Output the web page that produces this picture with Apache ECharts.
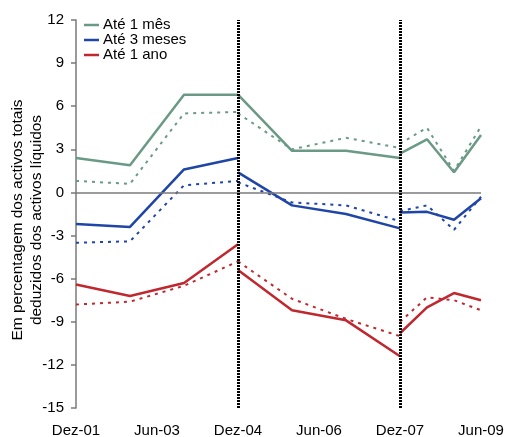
<!DOCTYPE html>
<html>
<head>
<meta charset="utf-8">
<script src="https://cdn.jsdelivr.net/npm/echarts@6/dist/echarts.min.js"></script>
<style>
  html, body { margin: 0; padding: 0; background: #fff; }
  #chart { width: 506px; height: 437px; }
</style>
</head>
<body>
<div id="chart"></div>
<script>
// Months since Dez-01, split into three periods (breaks at Dez-04 and Dez-07)
const periodMonths = [[0, 12, 24, 36], [36, 48, 60, 72], [72, 78, 84, 90]];
const tickLabels = ['Dez-01', 'Jun-03', 'Dez-04', 'Jun-06', 'Dez-07', 'Jun-09'];
const breakMonths = [36, 72];
const yTitle = 'Em percentagem dos activos totais\ndeduzidos dos activos líquidos';

// Solid lines
const mes1 = [[2.4, 1.9, 6.8, 6.8], [6.8, 2.9, 2.9, 2.4], [2.7, 3.7, 1.4, 4.0]];
const meses3 = [[-2.2, -2.4, 1.6, 2.4], [1.4, -0.9, -1.5, -2.5], [-1.4, -1.35, -1.9, -0.4]];
const ano1 = [[-6.4, -7.2, -6.3, -3.6], [-5.4, -8.2, -8.9, -11.4], [-9.8, -8.0, -7.0, -7.5]];

// Dotted lines
const mes1Dot = [[0.8, 0.6, 5.5, 5.6], [5.5, 3.0, 3.8, 3.1], [3.4, 4.5, 1.5, 4.6]];
const meses3Dot = [[-3.5, -3.4, 0.5, 0.8], [0.7, -0.7, -0.9, -2.0], [-1.3, -0.9, -2.6, -0.3]];
const ano1Dot = [[-7.8, -7.6, -6.5, -4.8], [-4.8, -7.4, -8.8, -10.0], [-9.0, -7.3, -7.5, -8.2]];

const names = ['Até 1 mês', 'Até 3 meses', 'Até 1 ano'];
const colors = ['#6a9a85', '#1f45a6', '#c0282f'];

function toData(periods) {
  const out = [];
  periods.forEach((vals, p) => {
    if (p > 0) out.push([periodMonths[p][0], null]);
    vals.forEach((v, i) => out.push([periodMonths[p][i], v]));
  });
  return out;
}

const FONT = '"Liberation Sans", Arial, sans-serif';

const series = [];
[mes1, meses3, ano1].forEach((s, i) => {
  series.push({
    name: names[i], type: 'line', data: toData(s), symbol: 'none',
    connectNulls: false, color: colors[i],
    lineStyle: { color: colors[i], width: 2.5 }, z: 3
  });
});
[mes1Dot, meses3Dot, ano1Dot].forEach((s, i) => {
  series.push({
    name: names[i] + ' ', type: 'line', data: toData(s), symbol: 'none',
    connectNulls: false, color: colors[i],
    lineStyle: { color: colors[i], width: 2, type: [3, 5] }, z: 2
  });
});
// zero line and period separators
series.push({
  name: 'ref', type: 'line', data: [], silent: true,
  markLine: {
    silent: true, symbol: 'none', label: { show: false },
    data: [{ yAxis: 0, lineStyle: { color: '#7a7a7a', width: 1.5, type: 'solid' } }]
      .concat(breakMonths.map(m => ({ xAxis: m, lineStyle: { color: '#000', width: 3, type: [2, 1] } }))),
    z: 5
  }
});

const chart = echarts.init(document.getElementById('chart'), null, { renderer: 'canvas' });
chart.setOption({
  animation: false,
  backgroundColor: '#fff',
  textStyle: { fontFamily: FONT },
  grid: { left: 76, right: 25, top: 20, bottom: 29, containLabel: false, outerBoundsMode: 'none' },
  legend: {
    data: names, orient: 'vertical', left: 84, top: 17.5, padding: 0,
    itemWidth: 15, itemHeight: 10, itemGap: 0,
    icon: 'path://M0,4 L15,4 L15,6.5 L0,6.5 Z',
    textStyle: { fontSize: 15, lineHeight: 15, color: '#000', fontFamily: FONT, padding: [0, 0, 0, -1] }
  },
  graphic: [{
    type: 'text', x: 27, y: 220, rotation: Math.PI / 2, silent: true,
    style: {
      text: yTitle, fill: '#000', font: '15.5px ' + FONT, lineHeight: 19,
      align: 'center', verticalAlign: 'middle'
    }
  }],
  xAxis: {
    type: 'value', min: 0, max: 90, interval: 18,
    axisLine: { show: false, onZero: false },
    axisTick: { show: false },
    splitLine: { show: false },
    axisLabel: {
      fontSize: 15, color: '#000', margin: 15, fontFamily: FONT,
      formatter: v => tickLabels[Math.round(v / 18)] || ''
    }
  },
  yAxis: {
    type: 'value', min: -15, max: 12, interval: 3,
    axisLine: { show: true, lineStyle: { color: '#7a7a7a', width: 1.5 } },
    axisTick: { show: true, inside: false, length: 5, lineStyle: { color: '#7a7a7a', width: 1.5 } },
    splitLine: { show: false },
    axisLabel: { fontSize: 15, color: '#000', margin: 12, fontFamily: FONT }
  },
  series: series
});
</script>
</body>
</html>
